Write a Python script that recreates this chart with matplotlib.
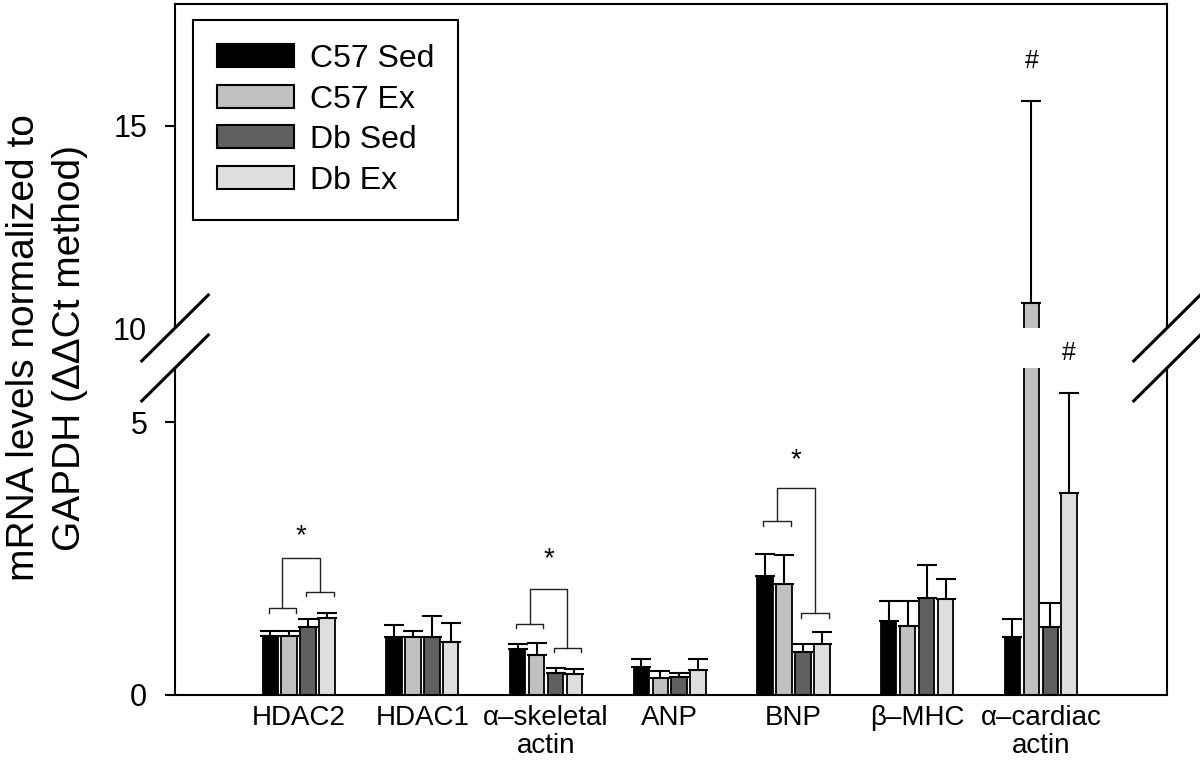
import numpy as np
import matplotlib.pyplot as plt
from matplotlib.patches import Patch
from matplotlib.lines import Line2D

plt.rcParams['font.family'] = ['Liberation Sans', 'DejaVu Sans']

genes = ['HDAC2', 'HDAC1', 'α–skeletal\nactin', 'ANP', 'BNP', 'β–MHC', 'α–cardiac\nactin']
groups = ['C57 Sed', 'C57 Ex', 'Db Sed', 'Db Ex']
colors = ['#000000', '#c0c0c0', '#606060', '#dedede']

c57_sed = [1.085, 1.07, 0.84, 0.51, 2.18, 1.36, 1.06]
c57_ex = [1.085, 1.07, 0.73, 0.305, 2.04, 1.26, 10.62]
db_sed = [1.25, 1.06, 0.40, 0.335, 0.78, 1.78, 1.245]
db_ex = [1.41, 0.97, 0.385, 0.45, 0.93, 1.76, 3.70]

c57_sed_err = [0.085, 0.22, 0.10, 0.155, 0.415, 0.37, 0.34]
c57_ex_err = [0.095, 0.10, 0.22, 0.14, 0.52, 0.46, 4.98]
db_sed_err = [0.15, 0.39, 0.10, 0.065, 0.15, 0.61, 0.44]
db_ex_err = [0.10, 0.35, 0.09, 0.215, 0.23, 0.36, 1.85]

# significance brackets: gene index, left pair height, right pair height, top, star
sig_genes = [0, 2, 4]
sig_left = [1.59, 1.31, 3.19]
sig_right = [1.89, 0.87, 1.50]
sig_top = [2.51, 1.95, 3.80]
sig_star = [2.92, 2.50, 4.31]

# '#' marks: (gene, series, value)
hash_marks = [(6, 1, 16.6), (6, 3, 6.28)]

values = [c57_sed, c57_ex, db_sed, db_ex]
errors = [c57_sed_err, c57_ex_err, db_sed_err, db_ex_err]

W, H = 1200, 767
fig = plt.figure(figsize=(W / 100, H / 100), dpi=100)
ax_low = fig.add_axes([175 / W, 1 - 695 / H, 992 / W, 327 / H])
ax_high = fig.add_axes([175 / W, 1 - 328 / H, 992 / W, 324 / H])

x = np.arange(len(genes))
step = 0.153
width = 0.125
offsets = [-1.5 * step, -0.5 * step, 0.5 * step, 1.5 * step]

for ax in (ax_low, ax_high):
    for i in range(4):
        ax.bar(x + offsets[i], values[i], width, color=colors[i],
               edgecolor='black', linewidth=1.3, zorder=2)
        ax.errorbar(x + offsets[i], values[i],
                    yerr=[np.zeros(len(genes)), errors[i]],
                    fmt='none', ecolor='black', elinewidth=1.5,
                    capsize=7.2, capthick=1.5, zorder=3)
    ax.set_xlim(-1.0, 7.02)
    for side in ('left', 'right', 'top', 'bottom'):
        ax.spines[side].set_linewidth(1.5)
    ax.tick_params(axis='y', direction='out', length=7, width=1.5,
                   labelsize=22, pad=13)

ax_low.set_ylim(0, 6)
ax_low.set_yticks([0, 5])
ax_low.spines['top'].set_visible(False)
ax_low.set_xticks(x)
ax_low.set_xticklabels(genes, fontsize=20, linespacing=1.1)
ax_low.tick_params(axis='x', length=0, pad=7)

ax_high.set_ylim(10, 18)
ax_high.set_yticks([10, 15])
ax_high.yaxis.get_major_ticks()[0].tick1line.set_visible(False)
ax_high.spines['bottom'].set_visible(False)
ax_high.set_xticks([])

# brackets and stars
for g, yl, yr, yt, ys in zip(sig_genes, sig_left, sig_right, sig_top, sig_star):
    lx0, lx1 = g - 0.244, g - 0.022
    rx0, rx1 = g + 0.061, g + 0.285
    tip = 0.08
    ax_low.plot([lx0, lx0, lx1, lx1], [yl - tip, yl, yl, yl - tip], color='#222222', lw=1.0)
    ax_low.plot([rx0, rx0, rx1, rx1], [yr - tip, yr, yr, yr - tip], color='#222222', lw=1.0)
    mx_l = (lx0 + lx1) / 2
    mx_r = (rx0 + rx1) / 2
    ax_low.plot([mx_l, mx_l, mx_r, mx_r], [yl, yt, yt, yr], color='#222222', lw=1.0)
    ax_low.text((mx_l + mx_r) / 2, ys, '*', ha='center', va='center', fontsize=20)

for g, s, yv in hash_marks:
    target = ax_high if yv >= 10 else ax_low
    target.text(g + offsets[s], yv, '#', ha='center', va='center', fontsize=18)

# axis break marks
for xc in (175, 1167):
    for yc in (328, 368):
        fig.add_artist(Line2D([(xc - 33.3) / W, (xc + 33.3) / W],
                              [1 - (yc + 33) / H, 1 - (yc - 33) / H],
                              transform=fig.transFigure, color='black', lw=2.2))

fig.text(47 / W, 1 - 348 / H, 'mRNA levels normalized to\nGAPDH (ΔΔCt method)',
         rotation=90, ha='center', va='center', fontsize=28, linespacing=1.35,
         multialignment='center')

handles = [Patch(facecolor=c, edgecolor='black', linewidth=1.5) for c in colors]
leg = ax_high.legend(handles, groups, loc='upper left',
                     bbox_to_anchor=(193 / W, 1 - 20 / H), bbox_transform=fig.transFigure,
                     fontsize=23, frameon=True, fancybox=False, edgecolor='black',
                     framealpha=1, handlelength=2.4, handleheight=0.72,
                     handletextpad=0.5, labelspacing=0.33, borderpad=0.75,
                     borderaxespad=0)
leg.get_frame().set_linewidth(1.5)

plt.savefig('out.png', dpi=100)
